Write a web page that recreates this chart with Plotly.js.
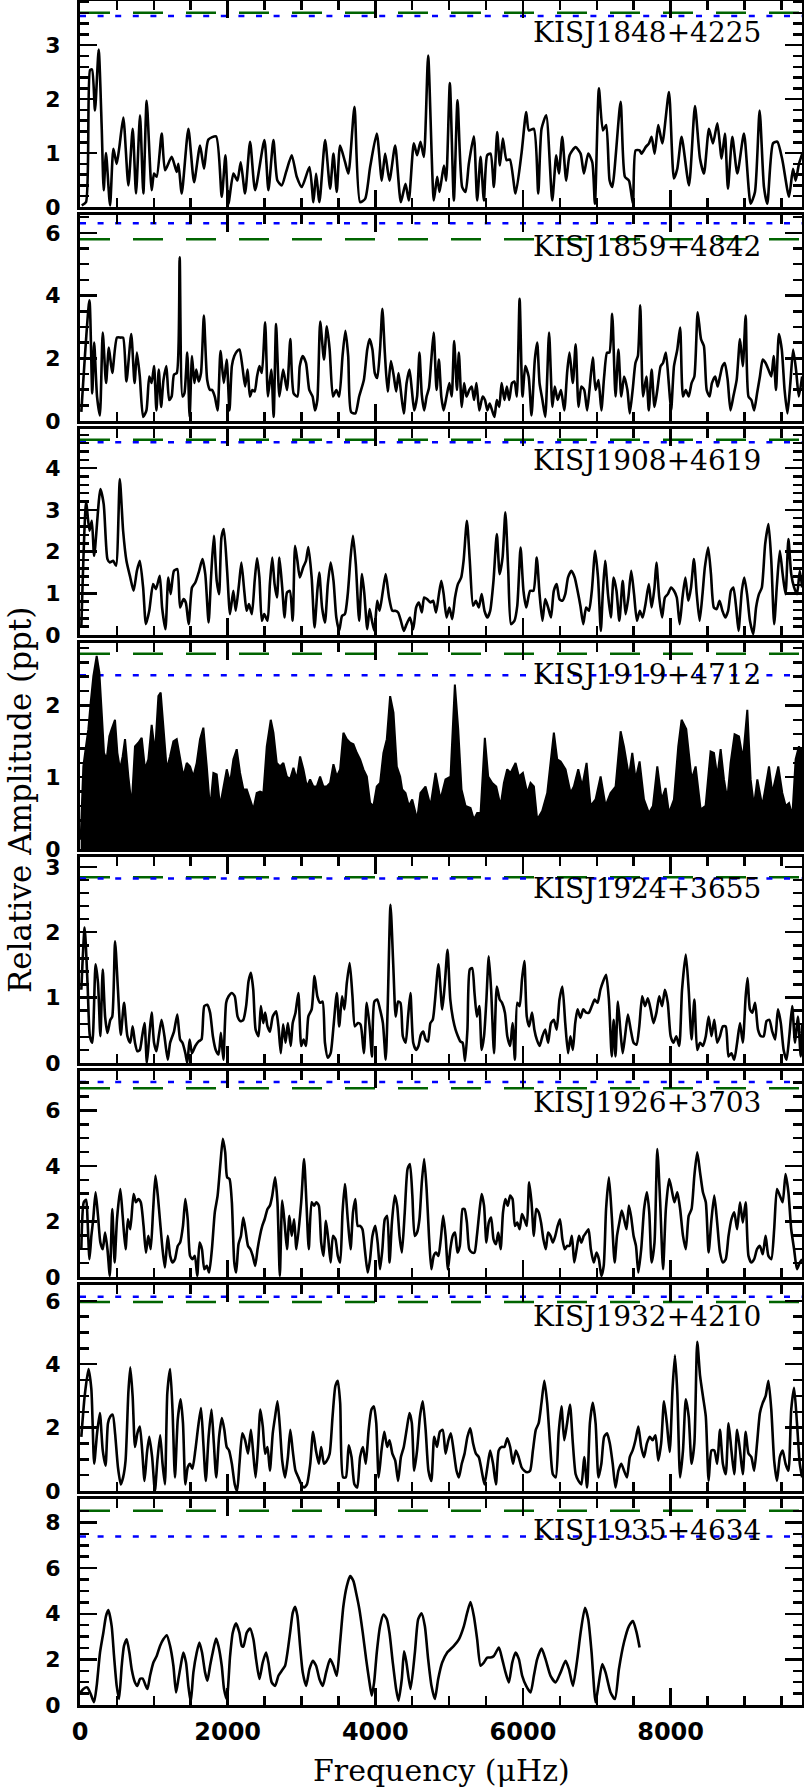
<!DOCTYPE html>
<html><head><meta charset="utf-8">
<script src="https://cdn.plot.ly/plotly-3.0.1.min.js"></script>
<style>html,body{margin:0;padding:0;background:#fff;}#chart{width:804px;height:1787px;}</style>
</head><body><div id="chart"></div>
<script>
const starNames = ['KISJ1848+4225','KISJ1859+4842','KISJ1908+4619','KISJ1919+4712','KISJ1924+3655','KISJ1926+3703','KISJ1932+4210','KISJ1935+4634'];
const xTitle = 'Frequency (\u03bcHz)';
const yTitle = 'Relative Amplitude (ppt)';
const freqMax = 9780;
const yMax = [3.82, 6.57, 4.94, 2.87, 3.15, 7.42, 6.5, 9.03];
const yMajor = [1, 2, 1, 1, 1, 2, 2, 2];
const yMinor = [0.2, 0.5, 0.2, 0.2, 0.2, 0.5, 0.5, 0.5];
const greenLevel = [3.60, 5.80, 4.68, 2.72, 2.84, 6.80, 5.96, 8.52];
const blueLevel = [3.54, 6.31, 4.62, 2.42, 2.82, 7.02, 6.13, 7.39];

const freq1 = [23,81,136,163,203,253,294,321,352,407,452,497,533,587,655,714,759,813,858,903,971,1003,1039,1107,1152,1242,1310,1333,1378,1468,1545,1626,1680,1739,1843,1920,1970,2010,2078,2132,2177,2236,2304,2372,2498,2552,2620,2674,2733,2792,2868,2936,3004,3108,3162,3198,3243,3320,3388,3433,3478,3523,3591,3636,3718,3794,3862,3930,4020,4088,4133,4192,4269,4346,4409,4454,4522,4567,4612,4658,4716,4793,4838,4870,4929,4960,5010,5064,5114,5177,5222,5267,5335,5380,5426,5471,5516,5561,5606,5651,5688,5728,5778,5823,5900,5981,6044,6080,6148,6207,6252,6315,6397,6451,6487,6532,6586,6632,6713,6781,6826,6884,6939,6975,7029,7083,7128,7174,7210,7323,7381,7436,7490,7526,7580,7607,7662,7707,7743,7784,7833,7888,7978,8045,8091,8149,8249,8330,8398,8452,8520,8574,8633,8691,8736,8777,8836,8904,8994,9084,9143,9206,9265,9310,9387,9446,9514,9604,9658,9694,9739,9784];
const amp1 = [0.03,0.09,2.54,2.55,1.79,2.92,1.48,0.31,1.0,0.03,1.08,0.8,1.11,1.66,0.4,1.45,0.25,1.7,0.25,1.97,0.31,0.62,0.56,1.36,0.68,0.93,0.65,0.8,0.25,1.45,0.46,1.14,0.71,1.25,1.31,0.19,0.96,0.06,0.62,0.49,0.83,0.25,1.21,0.31,1.24,0.31,1.24,0.49,0.4,0.65,0.96,0.56,0.37,0.74,0.09,0.62,0.09,1.24,0.34,0.99,0.28,1.14,0.83,0.62,1.86,0.09,0.15,0.74,1.36,0.49,0.99,0.49,1.14,0.09,0.43,0.12,1.18,0.96,1.21,0.93,2.81,0.12,0.56,0.28,0.77,0.49,2.3,0.12,1.98,0.37,0.28,0.8,1.31,0.12,0.93,0.12,0.96,0.99,0.37,1.39,0.77,1.27,0.87,0.88,0.25,1.0,1.76,1.42,1.45,0.25,1.45,1.7,0.12,0.96,0.62,1.3,0.49,0.96,1.11,0.99,0.62,0.99,0.83,0.06,2.2,1.42,1.52,0.49,0.37,1.95,0.56,0.49,0.06,1.05,1.05,0.99,1.11,1.18,1.3,0.99,1.52,1.18,2.13,0.53,0.71,1.3,0.4,1.87,0.9,0.62,1.45,1.18,1.55,0.9,1.36,0.34,1.3,0.62,1.36,0.06,0.28,1.79,0.37,0.06,1.18,1.21,0.87,0.19,0.71,0.49,0.8,0.99];

const freq2 = [18,128,166,192,231,269,308,353,391,437,501,552,584,629,694,739,771,810,855,900,938,970,1003,1035,1067,1099,1131,1170,1208,1241,1273,1311,1350,1388,1414,1453,1485,1517,1549,1575,1607,1639,1678,1723,1762,1787,1826,1864,1903,1948,1987,2025,2057,2090,2128,2160,2199,2237,2270,2302,2334,2366,2398,2430,2463,2508,2546,2591,2623,2656,2701,2752,2804,2849,2894,2945,2977,3016,3061,3106,3151,3183,3215,3254,3305,3344,3382,3427,3472,3511,3556,3595,3633,3672,3730,3781,3845,3891,3923,3961,3993,4026,4064,4096,4129,4167,4212,4251,4283,4315,4347,4386,4424,4463,4495,4527,4566,4598,4630,4662,4695,4727,4759,4791,4830,4862,4894,4926,4965,5003,5035,5068,5106,5132,5171,5203,5235,5273,5306,5338,5370,5409,5454,5486,5518,5550,5582,5614,5646,5679,5711,5749,5782,5814,5852,5885,5917,5955,5994,6032,6077,6116,6161,6193,6225,6264,6302,6354,6399,6431,6470,6515,6560,6598,6630,6676,6714,6753,6791,6830,6869,6901,6946,6984,7023,7062,7100,7139,7171,7209,7254,7293,7332,7370,7415,7447,7486,7524,7557,7589,7627,7672,7705,7743,7782,7820,7865,7897,7936,7975,8007,8046,8091,8129,8168,8206,8245,8284,8322,8367,8412,8451,8489,8528,8560,8605,8637,8669,8702,8734,8773,8811,8850,8895,8940,8978,9017,9055,9094,9132,9171,9210,9248,9287,9325,9364,9396,9428,9467,9506,9544,9583,9622,9660,9699,9737,9782];
const amp2 = [0.29,3.85,0.88,2.5,0.78,0.18,2.82,1.21,2.34,1.53,2.66,2.66,2.66,1.26,2.77,1.21,2.18,1.42,0.13,0.34,1.42,1.21,1.75,0.34,1.64,0.45,1.31,1.75,0.67,0.78,1.48,1.53,5.22,0.78,0.88,2.18,0.13,2.07,1.21,1.64,1.26,1.53,3.36,1.31,0.99,0.99,0.78,0.34,2.23,1.21,1.96,0.34,1.75,2.07,2.23,2.28,1.75,1.1,1.64,0.78,0.99,0.94,1.42,1.75,1.53,3.15,0.78,1.64,0.13,3.09,0.78,1.64,0.99,2.61,0.88,0.78,1.75,2.07,1.85,0.99,0.78,0.34,0.67,3.17,1.96,3.02,2.28,0.78,0.99,0.78,2.07,2.88,2.07,0.29,0.24,0.78,1.31,2.28,2.61,2.28,1.53,1.37,2.28,3.58,2.18,0.94,1.91,1.42,0.94,1.53,0.94,0.24,1.21,1.64,0.99,0.34,0.78,2.18,0.83,0.34,0.78,1.05,1.96,2.82,0.99,1.96,0.78,0.34,0.78,1.21,0.78,2.55,0.99,2.18,0.45,1.21,0.78,0.99,1.1,0.67,1.21,0.34,0.78,0.67,0.34,0.56,0.34,0.13,0.67,0.45,1.21,0.67,1.1,0.67,1.21,1.26,0.78,3.9,0.78,1.75,1.42,0.18,1.96,2.5,1.21,0.67,0.13,2.82,0.45,1.1,0.67,0.99,0.34,1.53,2.18,1.21,2.45,0.45,1.1,0.99,0.34,0.99,2.02,0.99,1.31,0.34,1.42,2.18,2.18,3.42,0.78,2.28,0.78,1.42,0.99,0.24,0.99,1.85,2.07,3.69,0.78,1.42,0.34,1.64,0.45,0.99,1.75,1.85,2.18,1.21,0.34,1.75,2.28,2.98,0.78,0.99,0.78,1.21,1.42,3.47,2.61,2.39,0.99,0.78,1.21,1.42,1.1,1.42,1.75,1.85,1.31,0.34,0.78,1.31,2.61,1.75,3.36,0.78,0.67,0.34,0.88,1.42,1.96,1.85,1.64,1.42,2.07,0.99,2.77,2.28,0.99,0.24,1.21,2.28,1.64,0.78,1.42];

const freq3 = [18,83,128,160,192,276,321,372,404,449,488,539,584,629,681,726,771,810,855,893,938,990,1028,1080,1112,1157,1196,1228,1273,1318,1356,1401,1433,1472,1517,1562,1614,1659,1697,1742,1775,1813,1852,1884,1916,1948,1993,2032,2077,2109,2154,2186,2225,2257,2289,2328,2366,2398,2430,2463,2495,2540,2572,2604,2636,2668,2701,2739,2771,2804,2842,2881,2913,2945,2977,3022,3061,3093,3138,3177,3215,3241,3279,3318,3357,3395,3434,3472,3511,3550,3588,3627,3665,3698,3736,3781,3820,3852,3891,3923,3955,3987,4026,4058,4103,4141,4186,4231,4270,4309,4347,4386,4424,4469,4514,4553,4591,4630,4662,4701,4746,4784,4823,4862,4894,4926,4965,5003,5042,5080,5119,5164,5196,5241,5280,5325,5363,5402,5441,5479,5518,5556,5601,5646,5685,5724,5762,5801,5839,5884,5923,5968,6007,6045,6097,6142,6187,6225,6264,6302,6341,6380,6418,6457,6495,6534,6573,6611,6656,6701,6740,6778,6817,6856,6894,6933,6978,7017,7055,7081,7113,7152,7190,7229,7267,7306,7351,7390,7428,7467,7505,7544,7583,7621,7660,7705,7743,7782,7808,7846,7885,7923,7962,8007,8046,8084,8123,8161,8200,8239,8277,8316,8354,8393,8432,8464,8509,8547,8586,8624,8663,8702,8740,8779,8817,8850,8888,8920,8965,8998,9036,9075,9120,9158,9197,9236,9281,9326,9364,9403,9441,9480,9518,9557,9596,9634,9673,9712,9750,9782];
const amp3 = [0.18,3.18,2.5,2.74,1.9,3.5,3.14,1.82,1.74,1.78,1.66,3.74,2.5,1.78,1.38,1.06,1.54,1.78,1.14,0.26,0.58,1.22,1.1,1.42,0.66,0.14,1.38,0.98,1.54,1.58,0.66,0.86,0.78,0.26,1.14,1.26,1.54,1.82,1.46,0.3,1.38,2.38,1.3,0.98,2.34,2.54,1.54,0.5,1.06,0.58,1.22,1.74,1.06,0.58,0.74,0.5,1.3,1.84,1.38,0.34,0.5,0.34,1.22,1.86,1.22,0.9,1.86,1.14,0.42,1.02,1.06,0.34,2.14,1.78,1.38,1.62,1.78,2.11,1.38,0.18,1.06,1.5,0.66,0.3,1.22,1.74,1.3,0.42,0.1,0.46,0.5,0.98,1.86,2.38,1.7,0.34,1.46,0.98,0.14,0.62,0.34,0.1,0.82,0.58,1.06,1.46,0.9,0.58,0.58,0.54,0.34,0.1,0.26,0.42,0.14,0.66,0.78,0.54,0.9,0.86,0.78,0.82,0.54,0.98,1.3,0.98,0.42,0.66,0.38,0.9,1.22,1.38,1.78,2.74,1.78,0.7,0.82,0.66,0.98,0.58,0.42,0.58,1.3,2.42,1.46,1.86,2.94,1.54,0.26,0.34,0.7,2.1,1.06,0.66,1.06,1.06,1.86,0.98,0.34,0.86,0.66,0.42,1.06,1.22,0.86,0.82,0.98,1.38,1.54,1.38,1.06,0.7,0.26,0.66,0.58,1.06,2.02,1.38,0.1,0.98,1.78,0.98,0.42,1.38,1.06,0.34,1.3,0.5,0.9,1.54,0.98,0.34,0.58,0.42,0.74,1.22,0.66,1.14,1.74,0.9,0.42,0.9,0.98,1.14,1.06,0.9,0.26,0.9,1.38,0.82,1.14,1.82,0.98,0.34,0.98,1.62,2.1,1.46,0.66,0.62,0.82,0.58,0.42,0.58,1.06,1.14,0.66,0.1,1.06,1.38,0.98,0.34,0.02,0.66,0.98,1.14,2.18,2.66,1.78,0.26,1.22,2.02,1.46,0.98,2.3,1.46,1.14,0.98,1.54,1.14];

const freq4 = [9,45,81,113,145,181,226,262,294,325,361,398,429,474,506,542,578,610,655,700,745,791,836,881,926,971,1016,1062,1093,1129,1175,1220,1265,1310,1355,1400,1446,1491,1536,1581,1626,1671,1717,1762,1807,1852,1897,1942,1988,2033,2078,2123,2168,2213,2259,2304,2349,2394,2439,2484,2530,2584,2620,2665,2710,2755,2801,2846,2891,2936,2981,3026,3072,3117,3162,3207,3252,3297,3343,3388,3433,3478,3523,3568,3614,3659,3704,3749,3794,3839,3885,3930,3975,4020,4065,4110,4156,4201,4246,4291,4336,4364,4409,4454,4500,4567,4612,4680,4748,4816,4883,4951,5019,5078,5123,5168,5222,5290,5335,5380,5426,5484,5529,5584,5638,5697,5742,5787,5832,5900,5945,5999,6058,6103,6148,6193,6261,6329,6419,6464,6510,6577,6645,6690,6749,6803,6862,6916,6984,7052,7119,7187,7255,7323,7368,7436,7481,7526,7580,7639,7707,7761,7820,7878,7932,7978,8045,8104,8149,8212,8285,8339,8407,8474,8542,8587,8633,8678,8723,8768,8813,8867,8926,8980,9039,9084,9129,9175,9242,9287,9333,9378,9459,9513,9559,9604,9649,9694,9739,9784];
const amp4 = [0.13,1.15,1.43,1.67,2.04,2.41,2.69,2.46,1.9,1.34,1.25,1.57,1.67,1.8,1.34,1.11,1.29,1.53,1.01,0.6,1.43,1.48,1.55,1.11,1.25,1.73,1.34,2.13,2.18,1.76,1.11,1.29,1.5,1.53,1.25,1.01,1.2,1.15,1.01,1.2,1.53,1.69,1.15,0.55,1.06,1.04,0.6,0.87,1.11,0.92,1.25,1.39,1.06,0.83,0.83,0.69,0.55,0.78,0.8,0.78,1.43,1.8,1.62,1.2,1.15,1.2,1.01,0.97,1.13,0.97,1.29,1.11,0.87,0.97,0.87,0.87,1.01,0.87,0.87,0.92,1.18,1.01,1.11,1.62,1.53,1.48,1.46,1.34,1.25,1.11,1.01,0.64,0.6,0.87,0.92,1.34,1.53,2.13,1.9,1.15,1.01,0.83,0.78,0.6,0.69,0.41,0.78,0.87,0.6,1.06,0.69,0.97,1.01,2.29,1.67,0.83,0.6,0.57,0.41,0.5,0.5,1.55,1.01,0.92,0.87,0.6,0.92,1.11,1.06,1.2,1.01,1.06,0.78,0.92,0.87,0.41,0.53,0.78,1.62,1.25,1.22,1.11,0.78,0.87,1.11,0.87,1.2,0.6,0.69,1.01,0.6,0.78,0.87,1.64,1.43,1.01,1.34,0.97,1.22,0.69,0.5,0.6,1.15,0.69,0.85,0.5,0.69,1.43,1.8,1.67,0.97,1.15,0.55,0.6,1.36,1.34,1.01,1.39,0.97,0.69,1.2,1.6,1.57,1.25,1.94,0.97,0.6,0.97,0.6,0.87,1.15,0.78,1.15,0.78,0.6,0.64,0.46,1.25,1.43,1.34];

const freq5 = [18,63,102,134,166,211,244,276,308,340,372,411,437,475,514,552,597,642,681,713,745,777,810,842,874,906,938,970,1003,1035,1067,1105,1144,1189,1221,1273,1318,1356,1388,1427,1453,1485,1517,1562,1607,1646,1684,1723,1762,1800,1839,1877,1909,1942,1980,2013,2057,2096,2135,2173,2212,2250,2283,2315,2347,2379,2418,2450,2482,2508,2540,2572,2611,2656,2688,2720,2752,2784,2816,2855,2881,2919,2958,2997,3029,3061,3093,3138,3177,3215,3254,3286,3318,3357,3395,3434,3479,3511,3550,3582,3614,3653,3691,3723,3762,3800,3845,3884,3923,3955,3987,4026,4064,4103,4141,4167,4206,4244,4276,4309,4341,4373,4411,4444,4476,4514,4553,4585,4617,4650,4682,4714,4746,4778,4810,4855,4907,4939,4978,5016,5055,5087,5119,5151,5183,5216,5248,5280,5312,5344,5376,5409,5441,5473,5505,5537,5569,5608,5646,5685,5717,5756,5788,5827,5859,5891,5923,5955,5987,6019,6052,6084,6123,6155,6187,6225,6264,6302,6341,6380,6418,6457,6495,6534,6573,6611,6643,6676,6708,6740,6778,6817,6856,6894,6933,6971,7010,7049,7087,7126,7164,7203,7229,7254,7286,7319,7351,7383,7422,7460,7499,7538,7576,7615,7653,7692,7730,7769,7808,7846,7885,7923,7962,8001,8039,8078,8117,8155,8206,8245,8284,8322,8361,8399,8438,8477,8515,8554,8592,8631,8669,8708,8747,8785,8824,8862,8901,8940,8978,9017,9042,9075,9107,9145,9184,9223,9261,9300,9338,9377,9416,9454,9493,9531,9570,9608,9647,9686,9724,9763,9782];
const amp5 = [1.12,2.07,1.22,0.41,0.31,1.51,1.22,0.41,1.43,0.71,0.46,0.66,0.71,1.86,1.12,0.43,0.92,0.41,0.31,0.56,0.31,0.18,0.2,0.41,0.61,0.0,0.41,0.77,0.31,0.18,0.41,0.66,0.41,0.05,0.31,0.48,0.74,0.36,0.31,0.15,0.0,0.36,0.15,0.26,0.33,0.36,0.87,0.89,0.77,0.41,0.2,0.13,0.46,0.05,0.92,1.02,1.07,1.02,0.71,0.64,0.66,0.87,1.25,1.38,1.12,0.51,0.41,0.87,0.61,0.77,0.56,0.48,0.71,0.79,0.56,0.15,0.59,0.31,0.61,0.26,0.61,0.77,1.07,0.26,0.36,0.26,0.71,0.82,1.33,1.02,0.92,0.94,0.31,0.08,0.15,0.56,1.07,0.56,1.02,0.82,1.22,1.53,1.02,0.56,0.61,0.59,0.15,0.92,0.56,0.1,0.94,0.97,0.82,0.61,0.05,0.82,2.42,1.48,0.71,0.94,0.92,0.41,0.31,0.71,1.07,0.31,0.2,0.26,0.43,0.48,0.36,0.33,0.61,0.66,0.97,1.51,0.82,1.17,1.73,0.97,0.66,0.51,0.41,0.33,0.31,0.03,0.51,1.43,1.45,1.07,0.71,0.87,0.2,0.41,0.97,1.63,1.12,0.15,1.17,0.97,0.92,0.77,0.41,0.26,0.61,0.05,0.92,0.87,1.28,1.56,0.71,0.56,0.77,0.51,0.36,0.26,0.41,0.51,0.31,0.61,0.66,0.51,0.97,1.17,0.61,0.15,0.41,0.2,0.61,0.82,0.69,0.82,0.77,0.77,0.87,0.97,0.92,1.12,1.25,1.35,0.97,0.1,0.66,0.1,0.94,0.51,0.15,0.41,0.74,0.51,0.31,0.28,0.56,1.02,0.87,0.99,0.82,0.61,0.77,1.02,0.87,1.12,0.92,0.41,0.31,0.41,0.26,1.12,1.66,1.12,0.36,0.97,0.2,0.31,0.26,0.41,0.71,0.41,0.66,0.31,0.41,0.56,0.56,0.1,0.15,0.05,0.31,0.61,0.31,1.02,1.3,0.82,0.77,0.92,0.51,0.41,0.41,0.64,0.66,0.48,0.36,0.82,0.61,0.2,0.05,0.41,0.87,0.31,0.71,0.1,0.61];

const freq6 = [18,51,83,102,128,154,179,211,244,276,308,340,372,404,437,469,501,546,578,617,649,681,726,758,790,823,861,893,925,958,990,1022,1054,1086,1118,1150,1189,1221,1253,1286,1324,1356,1395,1427,1459,1491,1523,1556,1588,1620,1652,1684,1717,1749,1787,1826,1864,1903,1935,1967,1993,2025,2057,2090,2115,2147,2180,2212,2244,2276,2308,2340,2373,2405,2437,2469,2501,2540,2572,2604,2643,2675,2707,2739,2771,2804,2836,2868,2900,2932,2996,3035,3067,3099,3138,3170,3202,3235,3267,3299,3331,3363,3395,3427,3460,3492,3524,3556,3588,3627,3665,3698,3730,3762,3794,3826,3858,3897,3929,3961,4000,4032,4064,4096,4129,4161,4193,4225,4264,4296,4328,4360,4399,4437,4469,4502,4534,4566,4598,4630,4662,4695,4727,4759,4791,4823,4855,4887,4920,4952,4984,5016,5048,5080,5113,5145,5183,5209,5241,5273,5312,5344,5376,5409,5441,5473,5505,5537,5569,5601,5634,5666,5698,5730,5762,5794,5827,5859,5891,5923,5955,5987,6019,6052,6084,6116,6148,6180,6213,6245,6277,6309,6341,6373,6405,6438,6470,6502,6534,6566,6598,6630,6663,6695,6727,6759,6791,6824,6856,6888,6920,6959,6997,7029,7062,7094,7126,7165,7203,7242,7274,7306,7338,7370,7403,7435,7467,7499,7531,7563,7602,7641,7679,7711,7743,7782,7820,7859,7898,7936,7981,8013,8052,8091,8129,8168,8206,8245,8284,8322,8361,8399,8438,8477,8515,8554,8592,8631,8669,8708,8747,8785,8824,8862,8901,8940,8978,9017,9055,9094,9132,9171,9210,9248,9287,9325,9364,9403,9441,9480,9518,9557,9596,9634,9673,9712,9750,9782];
const amp6 = [1.0,2.69,2.78,2.08,0.64,1.48,2.08,3.05,2.2,1.24,1.0,1.6,1.0,0.04,2.45,0.52,2.08,3.17,2.2,1.0,2.08,1.72,2.99,2.69,2.81,2.69,1.84,0.88,1.48,1.0,2.39,3.65,2.93,1.96,1.0,0.34,1.48,0.76,0.52,0.64,1.12,1.24,1.84,2.81,2.08,0.76,0.64,0.76,0.04,1.24,1.0,0.28,0.4,0.16,1.0,2.33,2.93,4.13,4.98,4.49,3.59,3.53,2.69,0.52,0.16,1.18,1.48,2.14,1.66,1.12,1.0,0.76,0.4,1.0,1.48,1.84,2.08,2.45,2.57,2.93,3.59,2.69,0.04,2.75,1.96,1.0,2.2,1.48,2.08,1.0,2.69,4.25,2.69,1.0,2.69,2.57,2.69,2.57,1.24,0.76,2.02,1.36,0.52,1.48,1.36,0.76,0.52,2.33,3.35,2.08,1.0,2.33,2.81,1.84,1.84,1.72,1.0,0.16,0.64,1.48,1.84,1.24,0.28,1.0,2.08,2.2,0.52,1.96,2.93,2.57,1.48,0.88,2.33,3.89,4.07,2.93,1.48,1.6,2.08,3.41,4.25,3.17,1.48,0.28,0.76,0.88,0.76,1.36,2.2,1.48,0.28,1.0,1.48,1.6,0.88,1.12,2.45,2.45,1.96,1.0,0.88,0.88,1.48,2.33,2.99,2.57,1.24,1.96,2.14,1.36,1.18,1.6,1.0,2.33,2.81,2.57,2.93,2.81,1.84,1.96,1.72,2.27,2.08,1.84,3.41,2.69,1.48,2.45,2.33,1.96,1.36,1.0,1.6,1.48,1.24,1.48,1.84,2.08,1.36,1.0,1.12,1.12,1.48,0.52,1.0,1.48,1.24,1.48,1.6,1.72,1.0,0.52,0.88,0.64,0.04,0.4,2.45,3.59,2.2,0.52,1.48,1.96,2.39,2.08,1.72,2.57,2.14,1.48,1.12,0.16,1.0,2.45,3.05,2.33,0.52,1.24,4.61,2.69,0.28,2.45,3.53,3.17,2.69,3.05,2.45,1.48,1.0,2.2,2.45,3.65,4.49,3.77,3.05,2.69,0.88,2.08,2.93,1.96,0.88,0.52,0.64,1.48,2.08,2.33,1.72,2.69,1.96,2.69,0.76,0.52,0.64,1.0,1.12,0.82,1.48,0.76,0.64,1.72,3.17,2.93,2.69,3.71,3.05,1.72,1.0,0.28,0.52,0.64];

const freq7 = [18,63,115,154,192,231,269,308,346,379,411,443,475,514,552,584,617,655,681,713,745,777,810,842,874,906,938,977,1015,1048,1086,1118,1150,1183,1221,1253,1286,1324,1363,1395,1427,1459,1491,1523,1562,1601,1639,1671,1704,1742,1781,1813,1845,1884,1922,1955,1987,2019,2057,2096,2128,2160,2199,2237,2276,2315,2347,2379,2411,2443,2476,2508,2540,2572,2611,2643,2675,2707,2739,2778,2816,2849,2881,2919,2958,2997,3035,3074,3119,3157,3196,3235,3267,3305,3344,3382,3421,3460,3492,3524,3563,3601,3640,3678,3717,3755,3794,3833,3871,3910,3948,3981,4013,4045,4084,4122,4161,4193,4231,4270,4309,4347,4386,4424,4463,4495,4527,4566,4605,4643,4682,4720,4759,4798,4836,4875,4913,4952,4990,5023,5061,5100,5132,5171,5209,5248,5286,5325,5363,5402,5441,5479,5518,5556,5595,5634,5672,5711,5749,5788,5827,5865,5904,5942,5981,6019,6058,6097,6135,6174,6213,6251,6290,6328,6367,6405,6444,6483,6521,6560,6598,6637,6676,6714,6753,6791,6830,6869,6907,6946,6984,7023,7062,7100,7139,7177,7216,7254,7293,7332,7370,7409,7447,7486,7524,7563,7602,7640,7679,7718,7756,7795,7833,7872,7911,7949,7988,8026,8059,8091,8129,8168,8206,8245,8284,8322,8361,8399,8438,8477,8515,8554,8592,8631,8669,8708,8747,8785,8824,8862,8901,8940,8978,9017,9055,9094,9132,9171,9210,9248,9287,9325,9364,9403,9441,9480,9518,9557,9596,9634,9673,9712,9750,9782];
const amp7 = [1.71,2.99,3.85,3.21,0.86,1.82,2.46,1.28,0.8,2.14,2.35,2.41,1.82,0.75,0.21,0.43,0.96,3.1,3.9,2.99,1.39,1.82,2.03,1.28,0.32,1.18,1.71,1.07,0.0,0.96,1.76,0.86,0.21,3.1,3.85,2.57,0.43,2.25,2.89,2.14,0.21,0.75,0.86,0.7,1.28,2.03,2.62,1.5,0.32,1.71,2.57,1.5,0.43,1.71,2.3,1.93,1.39,1.28,0.86,0.21,0.0,0.86,1.82,1.6,1.18,1.93,1.18,0.43,1.39,2.57,2.03,1.18,1.39,0.64,1.82,2.35,2.83,2.03,0.96,0.43,1.07,1.93,1.28,0.64,0.43,0.21,0.11,0.21,0.86,1.87,1.28,0.86,1.39,0.86,0.96,1.18,2.35,3.32,3.48,2.78,0.43,0.43,1.44,1.07,0.21,0.11,1.07,1.39,0.86,1.93,2.57,2.67,2.14,0.43,1.28,1.87,1.39,1.6,1.18,0.96,0.32,1.07,1.39,1.93,2.46,2.14,0.64,1.28,2.35,2.83,1.93,0.64,0.32,1.71,1.39,1.87,1.93,1.18,1.6,1.82,1.28,0.64,0.43,0.86,1.18,1.71,1.98,1.5,1.18,1.07,0.64,0.21,0.75,1.28,0.86,0.21,1.28,1.39,1.39,1.66,1.39,0.86,1.28,1.07,0.75,0.64,0.59,0.64,1.28,1.93,2.14,2.78,3.48,2.78,1.5,0.53,0.43,1.82,2.67,1.6,2.14,2.73,1.5,0.53,0.32,0.21,1.07,0.11,2.14,2.78,2.14,0.43,0.86,1.71,1.82,1.5,0.86,0.11,0.64,0.86,0.64,0.43,1.07,1.28,1.6,2.03,1.39,1.07,1.5,1.71,1.6,1.76,0.96,1.5,2.83,2.14,1.23,3.21,4.28,3.1,0.43,1.28,2.89,2.35,0.86,1.5,4.71,3.64,2.99,2.35,0.32,1.28,1.28,0.86,1.93,0.86,0.53,2.14,1.28,0.53,1.93,1.28,0.53,1.87,1.18,1.07,0.64,1.5,2.46,2.78,2.99,3.48,2.57,0.96,0.32,1.07,1.28,0.86,0.64,2.57,3.26,2.14,0.86,0.43];

const freq8 = [9,45,99,145,190,226,271,316,352,384,429,461,497,529,565,596,632,669,700,745,777,813,849,881,913,949,994,1039,1084,1129,1175,1220,1265,1301,1333,1364,1400,1436,1468,1500,1536,1581,1617,1653,1694,1726,1762,1798,1843,1875,1920,1951,1988,2033,2069,2114,2159,2191,2213,2259,2304,2349,2385,2430,2475,2520,2552,2597,2643,2688,2733,2778,2810,2846,2882,2914,2945,2981,3017,3063,3108,3153,3198,3243,3288,3334,3388,3433,3478,3523,3568,3614,3659,3704,3740,3785,3830,3876,3921,3952,3984,4020,4065,4110,4156,4192,4237,4282,4314,4359,4390,4420,4477,4536,4581,4626,4671,4716,4761,4807,4852,4906,4974,5064,5132,5200,5245,5290,5335,5380,5426,5471,5516,5561,5606,5674,5719,5764,5809,5855,5900,5945,5990,6044,6103,6148,6193,6252,6306,6374,6442,6510,6577,6623,6677,6736,6781,6840,6884,6930,6984,7029,7074,7119,7187,7246,7300,7368,7436,7490,7540,7580];
const amp8 = [0.55,0.7,0.77,0.48,0.12,0.84,2.3,3.17,3.9,4.16,3.46,2.15,0.84,0.26,1.72,2.59,2.88,2.3,1.57,0.99,0.84,1.14,1.16,0.92,0.7,1.28,1.86,2.15,2.59,2.88,3.06,2.59,1.72,0.55,1.14,1.72,2.3,1.86,0.84,0.12,1.43,2.3,2.74,2.3,1.43,1.06,1.72,2.3,2.91,2.59,1.72,0.7,0.26,2.15,3.17,3.58,3.17,2.59,2.56,3.17,3.35,2.88,2.01,1.14,1.86,2.3,1.86,0.99,0.84,1.28,1.5,1.72,2.3,3.17,4.05,4.31,3.9,2.59,1.43,0.84,1.57,1.94,1.72,1.14,0.84,1.43,2.01,1.72,1.28,2.74,4.34,5.21,5.65,5.43,4.92,4.19,3.17,2.01,0.99,0.41,0.99,2.3,3.46,3.97,3.76,3.17,1.86,0.7,0.19,1.14,2.35,1.9,0.7,2.3,3.76,4.02,3.46,2.01,0.84,0.26,1.14,1.86,2.3,2.59,2.88,3.46,4.05,4.51,3.9,2.88,1.72,1.86,2.08,2.08,2.15,2.52,2.01,1.43,0.99,1.86,2.3,2.01,1.28,0.84,0.55,1.28,2.01,2.47,2.01,1.28,0.99,1.43,1.94,1.57,0.84,2.01,3.17,4.26,3.76,2.3,0.12,0.99,1.79,1.43,0.55,0.26,1.57,2.74,3.46,3.68,3.17,2.52];

const seriesFreq = [freq1, freq2, freq3, freq4, freq5, freq6, freq7, freq8];
const seriesAmp = [amp1, amp2, amp3, amp4, amp5, amp6, amp7, amp8];

const H = 1787;
const traces = [];
const layout = {
  width: 804, height: H,
  margin: {l: 80, r: 2, t: 0, b: 0},
  paper_bgcolor: 'white', plot_bgcolor: 'white',
  showlegend: false,
  annotations: []
};
const tickFontY = {family: 'DejaVu Sans', size: 22, color: 'black', weight: 'bold'};
const tickFontX = {family: 'DejaVu Sans', size: 24, color: 'black', weight: 'bold'};

for (let k = 0; k < 8; k++) {
  const s = k === 0 ? '' : String(k + 1);
  const xa = 'x' + s, ya = 'y' + s;
  const top = 1 + 214 * k, bottom = 207 + 214 * k;
  layout['xaxis' + s] = {
    domain: [0, 1], range: [0, freqMax], anchor: ya,
    showline: true, linewidth: 3, linecolor: 'black', mirror: 'allticks',
    ticks: 'inside', ticklen: 17, tickwidth: 2.5, tickcolor: 'black',
    tick0: 0, dtick: 2000, tickformat: 'd',
    minor: {dtick: 500, ticklen: 9, tickwidth: 2.5, ticks: 'inside', tickcolor: 'black'},
    showgrid: false, zeroline: false, showticklabels: k === 7,
    tickfont: tickFontX, ticklabelstandoff: 3, fixedrange: true, automargin: false
  };
  layout['yaxis' + s] = {
    domain: [1 - bottom / H, 1 - top / H], range: [0, yMax[k]], anchor: xa,
    showline: true, linewidth: 3, linecolor: 'black', mirror: 'allticks',
    ticks: 'inside', ticklen: 17, tickwidth: 2.5, tickcolor: 'black',
    tick0: 0, dtick: yMajor[k],
    minor: {dtick: yMinor[k], ticklen: 9, tickwidth: 2.5, ticks: 'inside', tickcolor: 'black'},
    showgrid: false, zeroline: false, showticklabels: true,
    tickfont: tickFontY, ticklabelstandoff: 12, fixedrange: true, automargin: false
  };
  traces.push({x: [0, freqMax], y: [greenLevel[k], greenLevel[k]], xaxis: xa, yaxis: ya, mode: 'lines',
    line: {color: '#006400', width: 2.5, dash: '30px,23px'}, hoverinfo: 'skip'});
  traces.push({x: [0, freqMax], y: [blueLevel[k], blueLevel[k]], xaxis: xa, yaxis: ya, mode: 'lines',
    line: {color: '#0000ff', width: 2.5, dash: '6px,11.6px'}, hoverinfo: 'skip'});
  if (k === 3) {
    traces.push({x: seriesFreq[k], y: seriesAmp[k], xaxis: xa, yaxis: ya, mode: 'lines', fill: 'tozeroy',
      fillcolor: 'black', line: {color: 'black', width: 2}, hoverinfo: 'skip'});
  } else {
    traces.push({x: seriesFreq[k], y: seriesAmp[k], xaxis: xa, yaxis: ya, mode: 'lines',
      line: {color: 'black', width: 2.6, shape: 'spline', smoothing: 0.6}, hoverinfo: 'skip'});
  }
  layout.annotations.push({
    text: starNames[k], xref: xa + ' domain', yref: ya + ' domain',
    x: 0.946, y: 0.845, xanchor: 'right', yanchor: 'middle', showarrow: false,
    font: {family: 'DejaVu Serif', size: 28, color: 'black'}
  });
}
layout.annotations.push({
  text: xTitle, xref: 'paper', yref: 'paper', x: 0.5, y: 1 - 1770 / H,
  xanchor: 'center', yanchor: 'middle', showarrow: false,
  font: {family: 'DejaVu Serif', size: 30, color: 'black'}
});
layout.annotations.push({
  text: yTitle, xref: 'paper', yref: 'paper', x: (20 - 80) / 722, y: 1 - 800 / H,
  xanchor: 'center', yanchor: 'middle', textangle: -90, showarrow: false,
  font: {family: 'DejaVu Serif', size: 31, color: 'black'}
});

Plotly.newPlot('chart', traces, layout, {displayModeBar: false, staticPlot: true});
</script>
</body></html>
